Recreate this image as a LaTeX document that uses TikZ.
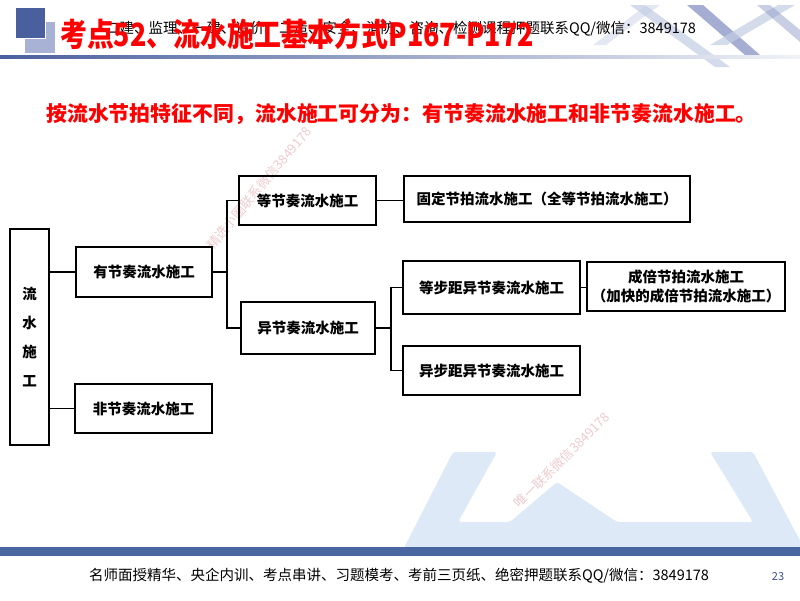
\documentclass[tikz,border=0pt]{standalone}
\usepackage{fontspec}
\setmainfont{Noto Sans CJK SC}
\usetikzlibrary{calc}
\definecolor{hdrblue}{HTML}{4A5F9E}
\definecolor{sqlight}{HTML}{A7B2D4}
\definecolor{barblue}{HTML}{4A66A1}
\definecolor{logoblue}{HTML}{DDE9F6}
\definecolor{titlered}{HTML}{FF0000}
\definecolor{wmpink}{HTML}{E5A9AE}
\definecolor{pgnum}{HTML}{3D4F8A}
\definecolor{stripeA}{HTML}{C3CCE3}
\definecolor{stripeB}{HTML}{8793C4}
\tikzset{
  box/.style={draw=black, line width=1.4pt, inner sep=0pt, align=center,
              font={\fontsize{14.5}{19}\selectfont\bfseries}},
  conn/.style={line width=1.4pt},
  wmark/.style={text=wmpink, opacity=0.6, font={\fontsize{13}{15}\selectfont}},
}
\begin{document}
\begin{tikzpicture}[x=1pt,y=-1pt]
\useasboundingbox (0,0) rectangle (800,600);
\fill[white] (0,0) rectangle (800,600);

% bottom-right logo
\begin{scope}
\clip (0,0) rectangle (800,600);
\fill[logoblue, rounded corners=3pt] (403,550) -- (453,452) -- (497,452) -- (458,522) -- (510,522)
  -- (557,482) -- (617,522) -- (753,522) -- (710,452) -- (753,452) -- (805,550) -- cycle;
\end{scope}

% top-right decoration
\fill[stripeA, opacity=0.7] (630,5) -- (645,5) -- (730,67) -- (715,67) -- cycle;
\fill[stripeB, opacity=0.75] (687,5) -- (703,5) -- (760,55) -- (745,55) -- cycle;
\fill[stripeA, opacity=0.7] (710,45) -- (727,45) -- (795,5) -- (778,5) -- cycle;
\fill[stripeA, opacity=0.45] (593,45) -- (606,45) -- (660,5) -- (647,5) -- cycle;
\fill[stripeB, opacity=0.45] (757,5) -- (770,5) -- (800,30) -- (800,42) -- cycle;

% header squares and line
\fill[sqlight] (25,22) rectangle (55,53);
\filldraw[fill=hdrblue, draw=white, line width=0.6pt] (15,7) rectangle (45,38);
\shade[left color=hdrblue, right color=hdrblue!8] (0,55.5) rectangle (800,58.5);

% header texts
\node[anchor=west, inner sep=0pt, font={\fontsize{14.5}{16}\selectfont}] (hdr) at (105,29)
  {二建、监理、一建、造价、二造、安全、消防、咨询、检测课程押题联系QQ/微信：3849178};
\node[anchor=west, inner sep=0pt, text=titlered, xscale=0.84,
      font={\fontsize{32}{36}\selectfont\bfseries}] (title) at (60,34)
  {考点52、流水施工基本方式P167-P172};

\node[anchor=west, inner sep=0pt, text=titlered,
      font={\fontsize{20.9}{24}\selectfont\bfseries}] (sub) at (46,114)
  {按流水节拍特征不同，流水施工可分为：有节奏流水施工和非节奏流水施工。};

% watermarks
\node[wmark, rotate=50, anchor=west] (wm1) at (207,250) {精选小圈联系微信3849178};
\node[wmark, rotate=45, anchor=west] (wm2) at (514,508) {唯一联系微信3849178};

% boxes
\node[box, minimum width=39pt, minimum height=216pt] (root) at (29.5,337)
  {流\\[10pt]水\\[10pt]施\\[10pt]工};
\node[box, minimum width=136pt, minimum height=50pt] (you) at (144,272) {有节奏流水施工};
\node[box, minimum width=137pt, minimum height=49pt] (fei) at (143.5,408.5) {非节奏流水施工};
\node[box, minimum width=137pt, minimum height=49pt] (deng) at (307.5,200.5) {等节奏流水施工};
\node[box, minimum width=134pt, minimum height=52pt] (yi) at (308,328) {异节奏流水施工};
\node[box, minimum width=286pt, minimum height=46pt] (gd) at (547,199) {固定节拍流水施工（全等节拍流水施工）};
\node[box, minimum width=177pt, minimum height=53pt] (dbj) at (491.5,287.5) {等步距异节奏流水施工};
\node[box, minimum width=177pt, minimum height=49pt] (ybj) at (491.5,370.5) {异步距异节奏流水施工};
\node[box, minimum width=198pt, minimum height=49pt] (cb) at (686,286.5)
  {成倍节拍流水施工\\（加快的成倍节拍流水施工）};

% connectors
\coordinate (j1) at (227,272);
\coordinate (j2) at (391,328);
\draw[conn] (you.west -| root.east) -- (you.west);
\draw[conn] (fei.west -| root.east) -- (fei.west);
\draw[conn] (you.east) -- (j1);
\draw[conn] (deng.west) -| (j1) |- (yi.west);
\draw[conn] (deng.east) -- (deng.east -| gd.west);
\draw[conn] (yi.east) -- (j2);
\draw[conn] (dbj.west) -| (j2) |- (ybj.west);
\draw[conn] (dbj.east) -- (dbj.east -| cb.west);

% footer
\fill[barblue] (0,547) rectangle (800,555.5);
\node[anchor=west, inner sep=0pt, font={\fontsize{14.5}{16}\selectfont}] (ftr) at (89,576)
  {名师面授精华、央企内训、考点串讲、习题模考、考前三页纸、绝密押题联系QQ/微信：3849178};
\node[text=pgnum, inner sep=0pt, font={\fontsize{11}{13}\selectfont}] (pg) at (778,577) {23};
\end{tikzpicture}
\end{document}
